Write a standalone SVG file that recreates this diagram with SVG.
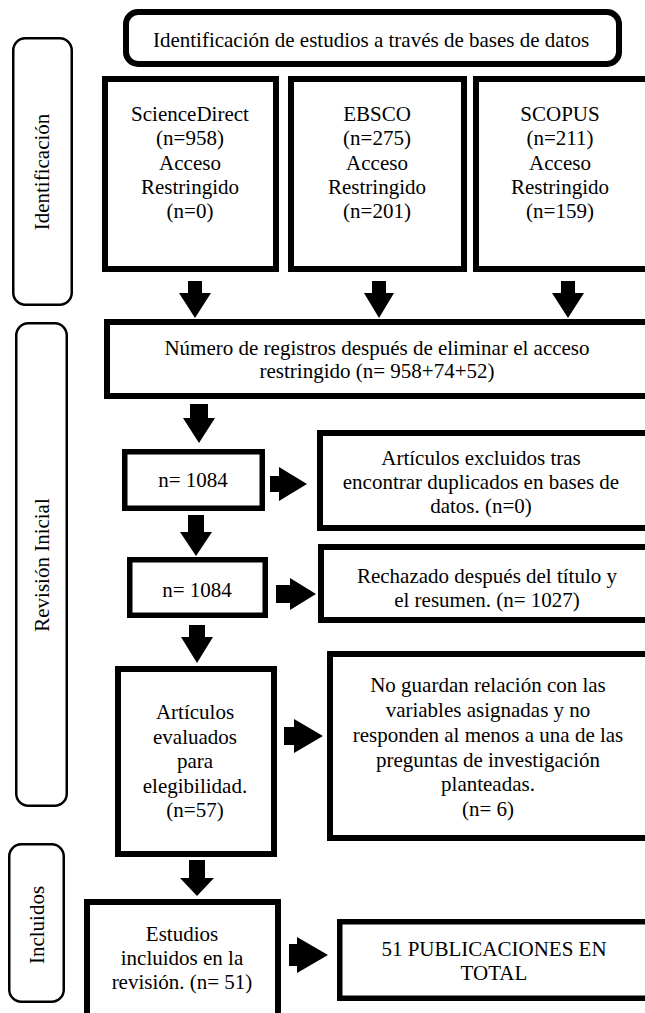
<svg xmlns="http://www.w3.org/2000/svg" width="645" height="1013" viewBox="0 0 645 1013">
<style>
  text { font-family: "Liberation Serif", "Times New Roman", serif; font-size: 21px; fill: #000; text-anchor: middle; }
  .box { fill: #fff; stroke: #000; stroke-width: 6; }
  .box5 { fill: #fff; stroke: #000; stroke-width: 5.5; }
  .phase { fill: #fff; stroke: #000; stroke-width: 2.5; }
  .arrow { fill: #000; stroke: none; }
</style>
<rect width="645" height="1013" fill="#fff"/>

<g id="phase-identificacion">
  <rect class="phase" x="13.25" y="38.25" width="58.5" height="266.5" rx="12"/>
  <text transform="translate(49,172) rotate(-90)">Identificación</text>
</g>
<g id="phase-revision">
  <rect class="phase" x="16.25" y="323.25" width="50.5" height="482.5" rx="12"/>
  <text transform="translate(49,565) rotate(-90)">Revisión Inicial</text>
</g>
<g id="phase-incluidos">
  <rect class="phase" x="9.25" y="844.25" width="54.5" height="157.5" rx="12"/>
  <text transform="translate(44,925) rotate(-90)">Incluidos</text>
</g>

<g id="node-header">
  <rect class="box" x="126" y="12" width="493" height="52" rx="12"/>
  <text x="371" y="47">Identificación de estudios a través de bases de datos</text>
</g>

<g id="node-sciencedirect">
  <rect class="box" x="105" y="79" width="171" height="190"/>
  <text x="190"><tspan x="190" y="121">ScienceDirect</tspan><tspan x="190" y="145">(n=958)</tspan><tspan x="190" y="170">Acceso</tspan><tspan x="190" y="194">Restringido</tspan><tspan x="190" y="218">(n=0)</tspan></text>
</g>
<g id="node-ebsco">
  <rect class="box" x="291" y="79" width="173" height="190"/>
  <text x="377"><tspan x="377" y="121">EBSCO</tspan><tspan x="377" y="145">(n=275)</tspan><tspan x="377" y="170">Acceso</tspan><tspan x="377" y="194">Restringido</tspan><tspan x="377" y="218">(n=201)</tspan></text>
</g>
<g id="node-scopus">
  <rect class="box" x="476" y="79" width="185" height="190"/>
  <text x="560"><tspan x="560" y="121">SCOPUS</tspan><tspan x="560" y="145">(n=211)</tspan><tspan x="560" y="170">Acceso</tspan><tspan x="560" y="194">Restringido</tspan><tspan x="560" y="218">(n=159)</tspan></text>
</g>

<g id="node-registros">
  <rect class="box" x="107" y="322" width="560" height="74"/>
  <text x="377"><tspan x="377" y="355">Número de registros después de eliminar el acceso</tspan><tspan x="377" y="378">restringido (n= 958+74+52)</tspan></text>
</g>

<g id="node-n1084a">
  <rect class="box5" x="124.75" y="451.75" width="137.5" height="56.5"/>
  <text x="193" y="487">n= 1084</text>
</g>
<g id="node-duplicados">
  <rect class="box" x="320" y="433" width="340" height="95"/>
  <text x="481"><tspan x="481" y="465">Artículos excluidos tras</tspan><tspan x="481" y="489">encontrar duplicados en bases de</tspan><tspan x="481" y="513">datos. (n=0)</tspan></text>
</g>

<g id="node-n1084b">
  <rect class="box5" x="129.75" y="559.75" width="135.5" height="55.5"/>
  <text x="197" y="597">n= 1084</text>
</g>
<g id="node-rechazado">
  <rect class="box" x="321" y="547" width="340" height="73"/>
  <text x="487"><tspan x="487" y="583">Rechazado después del título y</tspan><tspan x="487" y="607">el resumen. (n= 1027)</tspan></text>
</g>

<g id="node-evaluados">
  <rect class="box" x="118" y="669" width="156" height="185"/>
  <text x="195"><tspan x="195" y="719">Artículos</tspan><tspan x="195" y="744">evaluados</tspan><tspan x="195" y="768">para</tspan><tspan x="195" y="793">elegibilidad.</tspan><tspan x="195" y="817">(n=57)</tspan></text>
</g>
<g id="node-noguardan">
  <rect class="box" x="330" y="654" width="330" height="184"/>
  <text x="488"><tspan x="488" y="692">No guardan relación con las</tspan><tspan x="488" y="717">variables asignadas y no</tspan><tspan x="488" y="742">responden al menos a una de las</tspan><tspan x="488" y="767">preguntas de investigación</tspan><tspan x="488" y="791">planteadas.</tspan><tspan x="488" y="816">(n= 6)</tspan></text>
</g>

<g id="node-estudios">
  <rect class="box" x="87" y="902" width="191" height="130"/>
  <text x="182"><tspan x="182" y="941">Estudios</tspan><tspan x="182" y="965">incluidos en la</tspan><tspan x="182" y="989">revisión. (n= 51)</tspan></text>
</g>
<g id="node-total">
  <rect class="box5" x="339.75" y="921.75" width="320" height="76.5"/>
  <text x="494"><tspan x="494" y="956">51 PUBLICACIONES EN</tspan><tspan x="494" y="980">TOTAL</tspan></text>
</g>

<g id="connectors">
  <polygon class="arrow" points="188,281 202,281 202,293 211,293 195,318 179,293 188,293"/>
  <polygon class="arrow" points="372,281 386,281 386,293 394,293 379,318 364,293 372,293"/>
  <polygon class="arrow" points="561,281 575,281 575,293 584,293 568,318 552,293 561,293"/>
  <polygon class="arrow" points="190,404 208,404 208,418 215,418 199,443 183,418 190,418"/>
  <polygon class="arrow" points="188,515 204,515 204,532 212,532 196,556 180,532 188,532"/>
  <polygon class="arrow" points="189,625 205,625 205,637 213,637 197,663 181,637 189,637"/>
  <polygon class="arrow" points="189,860 205,860 205,878 214,878 197,896 180,878 189,878"/>
  <polygon class="arrow" points="270,476 279,476 279,467 307,484 279,501 279,492 270,492"/>
  <polygon class="arrow" points="276,585 290,585 290,578 316,594 290,610 290,603 276,603"/>
  <polygon class="arrow" points="284,727 294,727 294,719 323,736 294,753 294,745 284,745"/>
  <polygon class="arrow" points="289,944 297,944 297,937 328,955 297,973 297,966 289,966"/>
</g>
</svg>
